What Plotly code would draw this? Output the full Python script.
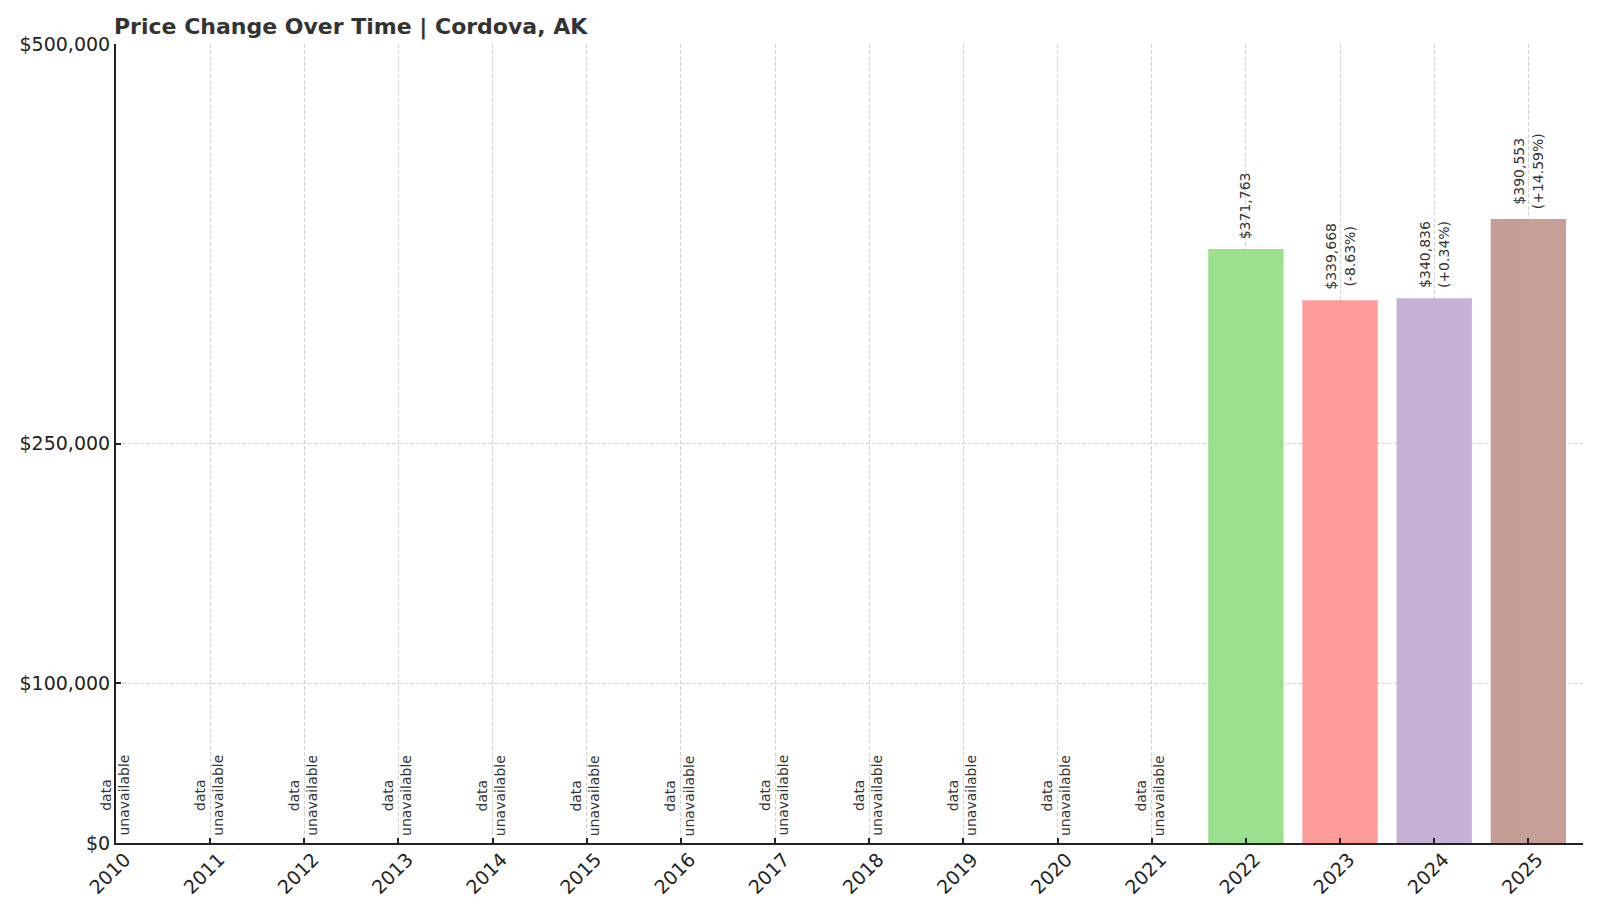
import plotly.graph_objects as go

years = [str(y) for y in range(2010, 2026)]
avail_years = ["2022", "2023", "2024", "2025"]
values = [371763, 339668, 340836, 390553]
changes = [None, "-8.63%", "+0.34%", "+14.59%"]
colors = ["#98df8a", "#ff9896", "#c5b0d5", "#c49c94"]
unavail_years = [y for y in years if y not in avail_years]
y_ticks = [0, 100000, 250000, 500000]
y_tick_labels = ["$0", "$100,000", "$250,000", "$500,000"]

FONT = "DejaVu Sans"
W, H = 1592, 906  # page body has an 8px margin

fig = go.Figure()
fig.add_trace(go.Bar(
    x=avail_years, y=values, marker=dict(color=colors, line=dict(width=0)),
    opacity=0.97, width=0.8, showlegend=False, hoverinfo="x+y",
))

for yr, v, ch in zip(avail_years, values, changes):
    txt = f"${v:,}" if ch is None else f"${v:,}<br>({ch})"
    fig.add_annotation(
        x=years.index(yr), y=v, xref="x", yref="y", text=txt, showarrow=False,
        textangle=-90, xanchor="center", yanchor="bottom", yshift=8,
        font=dict(family=FONT, size=14, color="#333333"),
    )
for yr in unavail_years:
    fig.add_annotation(
        x=years.index(yr), y=0, xref="x", yref="y", text="data<br>unavailable", showarrow=False,
        textangle=-90, xanchor="center", yanchor="bottom", yshift=5, xshift=-2,
        font=dict(family=FONT, size=14, color="#333333"),
    )

fig.update_layout(
    width=W, height=H,
    margin=dict(l=106, r=17, t=36, b=71),
    paper_bgcolor="white", plot_bgcolor="white",
    font=dict(family=FONT, color="#222222"),
    title=dict(text="<b>Price Change Over Time | Cordova, AK</b>",
               x=106/W, xanchor="left", xref="container",
               y=1-18/H, yanchor="middle", yref="container",
               font=dict(family=FONT, size=22, color="#333333")),
    bargap=0.2,
)
fig.update_xaxes(
    type="category", categoryorder="array", categoryarray=years,
    range=[0, 15.58], tickangle=-45, tickfont=dict(family=FONT, size=19, color="#222222"),
    ticklabelshift=9, ticklabelstandoff=-4,
    showgrid=True, gridcolor="#d3d3d3", griddash="4px,2px", gridwidth=1,
    showline=True, linecolor="#222222", linewidth=2,
    ticks="inside", ticklen=5, tickcolor="#222222", tickwidth=1.5,
    zeroline=False,
)
fig.update_yaxes(
    range=[0, 500000], tickvals=y_ticks, ticktext=y_tick_labels,
    tickfont=dict(family=FONT, size=19, color="#222222"),
    showgrid=True, gridcolor="#d3d3d3", griddash="4px,2px", gridwidth=1,
    showline=True, linecolor="#222222", linewidth=2,
    ticks="inside", ticklen=5, tickcolor="#222222", tickwidth=1.5,
    zeroline=False,
)

fig.write_html("out.html")
